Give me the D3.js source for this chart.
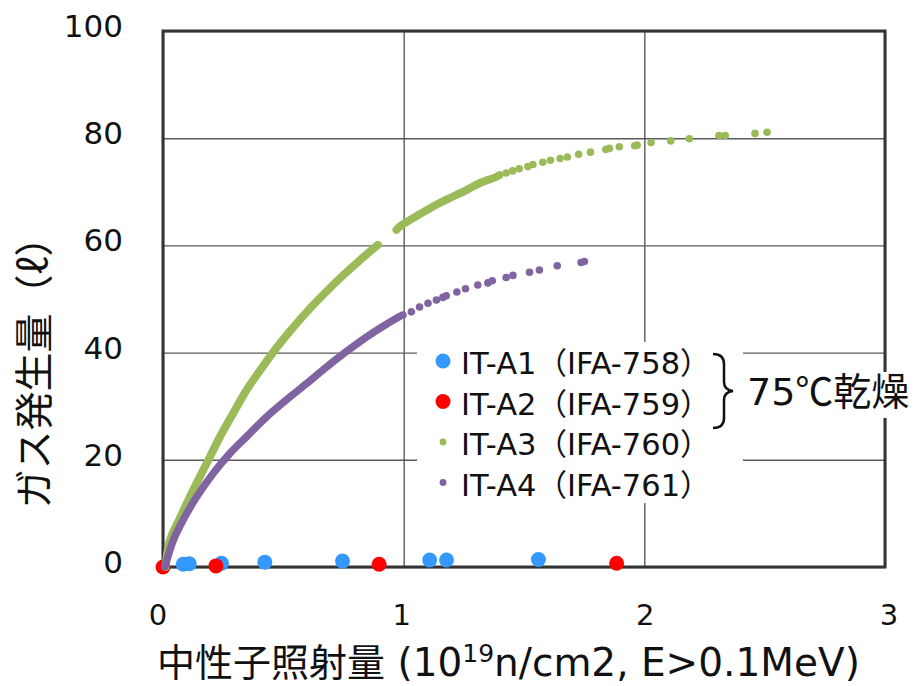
<!DOCTYPE html>
<html>
<head>
<meta charset="utf-8">
<script src="https://cdn.jsdelivr.net/npm/d3@7"></script>
<style>
  body { margin: 0; background: #fff; }
  svg { display: block; }
</style>
</head>
<body>
<div id="chart"></div>
<script>
// tick labels
var xTicks = [0, 1, 2, 3];
var yTicks = [0, 20, 40, 60, 80, 100];

var seriesCodes = ["IT-A1", "IT-A2", "IT-A3", "IT-A4"];
var seriesIds = ["IFA-758", "IFA-759", "IFA-760", "IFA-761"];

// IT-A1 and IT-A2 (75C dried) - big dots
var a1X = [0.084, 0.109, 0.243, 0.423, 0.746, 1.108, 1.178, 1.560];
var a1Y = [0.5, 0.6, 0.7, 0.9, 1.1, 1.3, 1.3, 1.4];
var a2X = [0.0, 0.220, 0.898, 1.885];
var a2Y = [0.0, 0.2, 0.5, 0.7];

// IT-A3, dense runs (points so close they read as a thick line)
var a3RunX1 = [0.01, 0.029, 0.071, 0.126, 0.181, 0.237, 0.292, 0.347, 0.402, 0.472, 0.541, 0.610, 0.679, 0.748, 0.817, 0.893];
var a3RunY1 = [0.0, 5.0, 9.2, 14.4, 19.3, 24.3, 28.7, 33.0, 36.6, 40.9, 44.7, 48.2, 51.4, 54.4, 57.2, 60.1];
var a3RunX2 = [0.970, 0.983, 1.025, 1.066, 1.108, 1.149, 1.190, 1.232, 1.260, 1.288, 1.315, 1.343, 1.370, 1.398];
var a3RunY2 = [62.9, 63.5, 64.7, 65.8, 66.9, 67.9, 68.8, 69.7, 70.3, 71.0, 71.6, 72.1, 72.5, 73.1];
// IT-A3, separate points
var a3X = [1.426, 1.453, 1.480, 1.516, 1.537, 1.578, 1.610, 1.650, 1.680, 1.727, 1.776, 1.840, 1.855, 1.896, 1.960, 1.970, 2.028, 2.110, 2.187, 2.310, 2.336, 2.460, 2.510];
var a3Y = [73.5, 73.9, 74.3, 74.7, 75.1, 75.5, 75.9, 76.2, 76.5, 77.0, 77.4, 77.9, 78.1, 78.4, 78.6, 78.7, 79.2, 79.5, 79.9, 80.5, 80.5, 80.9, 81.1];

// IT-A4
var a4RunX = [0.008, 0.043, 0.084, 0.140, 0.209, 0.278, 0.347, 0.430, 0.513, 0.596, 0.679, 0.762, 0.845, 0.928, 0.985];
var a4RunY = [0.0, 5.0, 8.8, 13.1, 17.5, 21.2, 24.3, 28.0, 31.2, 34.2, 37.3, 40.2, 42.9, 45.3, 46.8];
var a4X = [0.997, 1.032, 1.066, 1.101, 1.136, 1.163, 1.177, 1.221, 1.257, 1.308, 1.350, 1.368, 1.426, 1.454, 1.523, 1.564, 1.638, 1.737, 1.751];
var a4Y = [47.0, 47.6, 48.5, 49.2, 49.8, 50.3, 50.6, 51.3, 51.9, 52.6, 53.0, 53.4, 54.0, 54.4, 55.0, 55.4, 56.2, 56.8, 57.0];

var colors = ["#3399ff", "#ff0000", "#9bbb59", "#8064a2"];

var w = 915;
var h = 686;
var plotL = 163, plotR = 885, plotT = 31, plotB = 567;
var latin = "DejaVu Sans, Noto Sans CJK JP";
var cjk = "Noto Sans CJK JP";

var svg = d3.select("#chart")
            .append("svg")
            .attr("width", w)
            .attr("height", h);

var x = d3.scaleLinear().domain([0, 3]).range([plotL, plotR]);
var y = d3.scaleLinear().domain([0, 100]).range([plotB, plotT]);

function zip(xs, ys) {
    return xs.map(function(d, i) { return [d, ys[i]]; });
}

// gridlines
svg.append("g")
   .attr("transform", "translate(0," + plotB + ")")
   .call(d3.axisBottom(x).tickValues(xTicks).tickSize(-(plotB - plotT)).tickFormat(""))
   .call(function(g) {
       g.select(".domain").remove();
       g.selectAll("line").attr("stroke", "#5a5a5a").attr("stroke-width", 1.4);
   });
svg.append("g")
   .attr("transform", "translate(" + plotL + ",0)")
   .call(d3.axisLeft(y).tickValues(yTicks).tickSize(-(plotR - plotL)).tickFormat(""))
   .call(function(g) {
       g.select(".domain").remove();
       g.selectAll("line").attr("stroke", "#5a5a5a").attr("stroke-width", 1.4);
   });

// frame
svg.append("rect")
   .attr("x", plotL).attr("y", plotT)
   .attr("width", plotR - plotL).attr("height", plotB - plotT)
   .attr("fill", "none")
   .attr("stroke", "#333")
   .attr("stroke-width", 3);

// tick labels
svg.selectAll(".ylab")
   .data(yTicks)
   .enter()
   .append("text")
   .attr("class", "ylab")
   .attr("x", 123)
   .attr("y", function(d) { return y(d) + 6; })
   .attr("text-anchor", "end")
   .attr("font-family", latin)
   .attr("font-size", 31)
   .attr("fill", "#111")
   .text(function(d) { return d; });

svg.selectAll(".xlab")
   .data(xTicks)
   .enter()
   .append("text")
   .attr("class", "xlab")
   .attr("x", function(d) { return x(d) - 5 + d * 3; })
   .attr("y", 625)
   .attr("text-anchor", "middle")
   .attr("font-family", latin)
   .attr("font-size", 29)
   .attr("fill", "#111")
   .text(function(d) { return d; });

// axis titles
var xt = svg.append("text")
   .attr("x", 157)
   .attr("y", 676)
   .attr("font-family", latin)
   .attr("font-size", 39)
   .attr("fill", "#111");
xt.append("tspan").attr("font-family", cjk).attr("font-size", 38).text("中性子照射量");
xt.append("tspan").text(" (10");
xt.append("tspan").attr("font-size", 25).attr("dy", -14).text("19");
xt.append("tspan").attr("dy", 14).text("n/cm2, E>0.1MeV)");

svg.append("text")
   .attr("transform", "translate(48,363) rotate(-90)")
   .attr("text-anchor", "middle")
   .attr("font-family", cjk)
   .attr("font-size", 39)
   .attr("fill", "#111")
   .text("ガス発生量（ℓ）");

// series
function dots(xs, ys, r, color) {
    svg.append("g")
       .selectAll("circle")
       .data(zip(xs, ys))
       .enter()
       .append("circle")
       .attr("cx", function(d) { return x(d[0]); })
       .attr("cy", function(d) { return y(d[1]); })
       .attr("r", r)
       .attr("fill", color);
}
function run(xs, ys, width, color) {
    var line = d3.line()
                 .x(function(d) { return x(d[0]); })
                 .y(function(d) { return y(d[1]); })
                 .curve(d3.curveCatmullRom);
    svg.append("path")
       .datum(zip(xs, ys))
       .attr("d", line)
       .attr("fill", "none")
       .attr("stroke", color)
       .attr("stroke-width", width)
       .attr("stroke-linecap", "round");
}

dots(a1X, a1Y, 7.5, colors[0]);
dots(a2X, a2Y, 7.5, colors[1]);
run(a3RunX1, a3RunY1, 8, colors[2]);
run(a3RunX2, a3RunY2, 8, colors[2]);
dots(a3X, a3Y, 3.8, colors[2]);
run(a4RunX, a4RunY, 7.5, colors[3]);
dots(a4X, a4Y, 3.8, colors[3]);

// legend
svg.append("rect")
   .attr("x", 417).attr("y", 342)
   .attr("width", 326).attr("height", 161)
   .attr("fill", "#fff");

var legR = [7.5, 7.5, 3.4, 3.4];
var leg = svg.selectAll(".leg")
   .data(seriesCodes)
   .enter()
   .append("g")
   .attr("class", "leg")
   .attr("transform", function(d, i) { return "translate(0," + (361 + i * 40.5) + ")"; });
leg.append("circle")
   .attr("cx", 443)
   .attr("r", function(d, i) { return legR[i]; })
   .attr("fill", function(d, i) { return colors[i]; });
leg.append("text")
   .attr("x", 461)
   .attr("y", 13)
   .attr("font-family", latin)
   .attr("font-size", 30.5)
   .attr("fill", "#111")
   .text(function(d, i) { return d + "（" + seriesIds[i] + "）"; });

// brace and note for the dried pair
svg.append("path")
   .attr("d", "M713,354 Q724,354 724,364 L724,382 Q724,390 733,391 Q724,392 724,400 L724,418 Q724,428 713,428")
   .attr("fill", "none")
   .attr("stroke", "#111")
   .attr("stroke-width", 2.5);
svg.append("rect")
   .attr("x", 745).attr("y", 372)
   .attr("width", 170).attr("height", 46)
   .attr("fill", "#fff");
var note = svg.append("text")
   .attr("x", 747)
   .attr("y", 405)
   .attr("font-family", latin)
   .attr("font-size", 38)
   .attr("fill", "#111");
note.append("tspan").text("75");
note.append("tspan").attr("font-family", cjk).text("℃乾燥");
</script>
</body>
</html>
